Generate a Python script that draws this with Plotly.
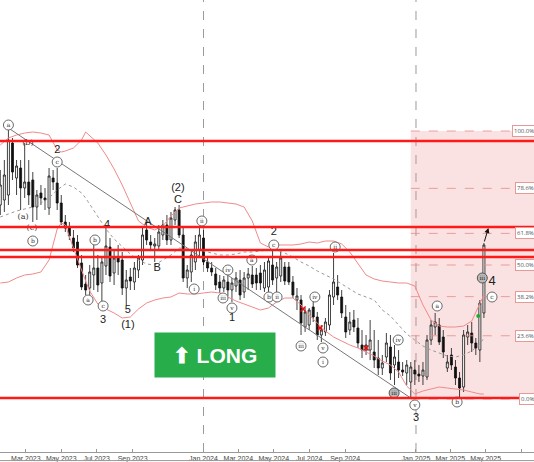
import plotly.graph_objects as go
import pandas as pd

# ---------------- DATA ----------------
start = pd.Timestamp("2023-01-16")  # first weekly candle (Monday)

open_ = [295, 300, 305, 357, 322, 332, 312, 318, 320, 293, 307, 302, 292, 322, 317, 297, 278, 272, 262, 258,
         237, 216, 212, 225, 232, 217, 234, 253, 227, 242, 240, 212, 223, 218, 230, 240, 270, 258, 254, 254,
         265, 275, 260, 280, 290, 265, 222, 228, 238, 250, 262, 238, 232, 226, 218, 212, 218, 210, 214, 220,
         208, 222, 225, 225, 227, 212, 213, 235, 222, 224, 233, 233, 218, 200, 200, 173, 175, 193, 183, 165,
         168, 175, 203, 213, 203, 183, 170, 180, 172, 155, 150, 150, 148, 142, 132, 143, 153, 135, 138, 130,
         127, 118, 130, 126, 124, 123, 160, 173, 175, 163, 132, 145, 133, 122, 113, 163, 167, 157, 150, 187]
high = [330, 340, 372, 362, 340, 340, 357, 340, 328, 310, 315, 312, 332, 330, 332, 305, 285, 278, 270, 265,
        245, 225, 235, 255, 245, 242, 272, 262, 250, 255, 248, 230, 232, 238, 245, 272, 278, 265, 262, 275,
        280, 285, 288, 293, 295, 272, 235, 250, 265, 273, 270, 242, 238, 232, 225, 224, 225, 222, 228, 230,
        228, 232, 234, 232, 235, 238, 242, 252, 238, 248, 238, 238, 224, 212, 205, 192, 192, 200, 188, 175,
        182, 210, 247, 225, 210, 195, 188, 190, 182, 170, 165, 180, 170, 160, 145, 167, 165, 155, 150, 138,
        140, 138, 140, 135, 138, 165, 180, 187, 182, 170, 145, 152, 140, 128, 170, 175, 178, 162, 200, 257]
low = [285, 288, 295, 320, 305, 290, 302, 295, 278, 280, 295, 290, 285, 310, 290, 275, 268, 260, 248, 232,
       210, 205, 205, 210, 208, 198, 225, 218, 215, 225, 205, 195, 210, 210, 222, 235, 255, 250, 238, 250,
       260, 255, 255, 275, 262, 218, 212, 218, 230, 242, 235, 228, 224, 210, 207, 208, 204, 198, 208, 200,
       202, 210, 212, 210, 210, 208, 207, 215, 208, 218, 215, 215, 202, 190, 165, 168, 170, 178, 160, 158,
       164, 170, 195, 200, 182, 162, 165, 168, 152, 142, 145, 140, 132, 125, 125, 138, 120, 115, 122, 124,
       115, 102, 115, 118, 115, 120, 155, 165, 155, 142, 128, 130, 115, 103, 108, 155, 148, 145, 138, 182]
close = [315, 325, 360, 328, 334, 312, 318, 305, 293, 305, 302, 300, 324, 318, 297, 278, 272, 264, 252, 235,
         213, 210, 228, 232, 215, 238, 254, 224, 242, 238, 212, 220, 219, 232, 242, 265, 260, 255, 256, 268,
         275, 260, 282, 290, 265, 222, 230, 245, 258, 265, 238, 232, 228, 215, 212, 220, 210, 217, 222, 205,
         222, 226, 216, 217, 217, 230, 239, 220, 233, 242, 219, 218, 205, 204, 177, 188, 190, 183, 165, 170,
         178, 205, 218, 205, 187, 168, 178, 173, 157, 150, 155, 160, 140, 132, 137, 157, 127, 143, 130, 128,
         135, 133, 126, 124, 130, 160, 175, 178, 158, 148, 138, 135, 122, 112, 165, 168, 157, 152, 197, 255]

# Bollinger bands (week index -> value)
bb_idx = [0, 2, 4, 6, 8, 10, 12, 14, 15, 16, 18, 20, 21, 22, 24, 26, 28, 30, 32, 34, 36, 38, 40, 42, 44, 46, 48,
          50, 52, 54, 56, 58, 60, 62, 64, 66, 68, 70, 72, 74, 76, 78, 80, 82, 84, 86, 88, 90, 92, 94, 96, 98,
          100, 102, 104, 106, 108, 110, 112, 114, 116, 118, 119]
bb_upper = [355, 362, 365, 367, 368, 367, 365, 350, 348, 349, 352, 360, 368, 364, 357, 345, 331, 315, 297, 279,
            273, 270, 274, 284, 292, 294, 296, 297, 298, 298, 297, 296, 293, 279, 257, 253, 255, 255, 255, 256,
            258, 257, 259, 259, 256, 248, 236, 225, 221, 219, 218, 217, 217, 214, 195, 180, 174, 173, 173, 174,
            179, 197, 205]
bb_middle = [283, 286, 289, 291, 293, 297, 302, 310, 313, 316, 313, 307, 302, 296, 284, 271, 261, 253, 246, 240,
             236, 235, 240, 245, 252, 251, 250, 249, 247, 245, 245, 246, 248, 248, 249, 250, 250, 247, 243, 238,
             234, 229, 225, 221, 216, 211, 206, 203, 200, 190, 184, 175, 166, 160, 154, 150, 147, 144, 143, 145,
             149, 156, 162]
bb_lower = [217, 218, 222, 225, 226, 228, 240, 271, 277, 275, 252, 229, 219, 209, 196, 191, 187, 182, 183, 191,
            197, 200, 202, 203, 207, 206, 206, 207, 208, 207, 203, 199, 196, 193, 190, 192, 198, 202, 202, 195,
            185, 177, 169, 163, 159, 155, 152, 148, 144, 139, 135, 128, 114, 106, 109, 111, 113, 112, 111, 110,
            108, 106, 106]

# horizontal support / resistance lines
sr_levels = [359, 273, 250, 243, 102]

# Fibonacci retracement
fib_low, fib_high = 101, 369
fib_ratios = [1.0, 0.786, 0.618, 0.5, 0.382, 0.236, 0.0]
fib_texts = ["100.0%", "78.6%", "61.8%", "50.0%", "38.2%", "23.6%", "0.0%"]

# x-axis ticks
tick_dates = ["2023-01-01", "2023-03-01", "2023-05-01", "2023-07-01", "2023-09-01",
              "2024-01-01", "2024-03-01", "2024-05-01", "2024-07-01", "2024-09-01",
              "2025-01-01", "2025-03-01", "2025-05-01", "2025-07-01"]
tick_labels = ["Jan 2023", "Mar 2023", "May 2023", "Jul 2023", "Sep 2023",
               "Jan 2024", "Mar 2024", "May 2024", "Jul 2024", "Sep 2024",
               "Jan 2025", "Mar 2025", "May 2025", "Jul 2025"]

# Elliott wave labels (text, week index, price)
circled_labels = [("a", 2, 375), ("c", 14, 338), ("b", 8, 259), ("a", 21.6, 200), ("b", 23.3, 260),
                  ("c", 25.3, 194), ("i", 47.7, 211), ("ii", 49.6, 279), ("iii", 54.8, 202), ("iv", 56.0, 230),
                  ("v", 57.0, 192), ("a", 61.9, 240), ("b", 66.1, 203), ("c", 67.3, 255), ("ii", 68.1, 203),
                  ("iii", 74.0, 154), ("iv", 77.4, 203), ("v", 79.4, 152), ("i", 79.4, 138), ("ii", 82.4, 253),
                  ("iv", 97.9, 160), ("v", 102.0, 95), ("a", 107.5, 194), ("b", 112.4, 98), ("c", 121.0, 203)]
filled_labels = [("iii", 96.9, 107), ("iii", 118.6, 222)]
plain_labels = [("2", 14, 350), ("3", 25.3, 180), ("4", 26.3, 275), ("5", 31.4, 190), ("(1)", 31.4, 175),
                ("A", 36.3, 278), ("B", 38.6, 232), ("(2)", 43.7, 312), ("C", 43.7, 300), ("1", 57.0, 182),
                ("2", 67.3, 268), ("3", 102.3, 82)]
big_labels = [("4", 121.0, 218)]
small_labels = [("(b)", 6.8, 357), ("(a)", 5.6, 283), ("(c)", 7.8, 272)]
red_marks = [(74.5, 191), (78.7, 172), (90.0, 152)]
green_marks = [(117.6, 184)]

x_start, x_end = "2023-01-15 12:00", "2025-07-23 06:00"


def wk(i):
    return start + pd.Timedelta(days=7 * i)


dates = [wk(i) for i in range(len(close))]

fig = go.Figure()

# Bollinger bands
bb_x = [wk(i) for i in bb_idx]
fig.add_trace(go.Scatter(x=bb_x, y=bb_upper, mode="lines", line=dict(color="#f08a8a", width=1), hoverinfo="skip"))
fig.add_trace(go.Scatter(x=bb_x, y=bb_lower, mode="lines", line=dict(color="#f08a8a", width=1), hoverinfo="skip"))
fig.add_trace(go.Scatter(x=bb_x, y=bb_middle, mode="lines", line=dict(color="#999999", width=1, dash="dot"),
                         hoverinfo="skip"))

# trend line from the first top to wave-3 low
i_low = low.index(min(low[:110]))
fig.add_trace(go.Scatter(x=[dates[2], dates[i_low]], y=[high[2], low[i_low]], mode="lines",
                         line=dict(color="#777777", width=1), hoverinfo="skip"))

# Fibonacci dashed lines
for r in fib_ratios:
    lvl = fib_low + r * (fib_high - fib_low)
    fig.add_trace(go.Scatter(x=[dates[i_low], x_end], y=[lvl, lvl], mode="lines",
                             line=dict(color="#e98a8a", width=0.8, dash="dash"), hoverinfo="skip"))

# candles
fig.add_trace(go.Candlestick(
    x=dates, open=open_, high=high, low=low, close=close,
    increasing=dict(line=dict(color="#111111", width=0.8), fillcolor="white"),
    decreasing=dict(line=dict(color="#111111", width=0.8), fillcolor="#111111"),
    whiskerwidth=0, showlegend=False))

# markers
fig.add_trace(go.Scatter(x=[wk(i) for i, _ in red_marks], y=[v for _, v in red_marks], mode="markers",
                         marker=dict(symbol="x-thin", size=5, line=dict(color="#e01010", width=1.5))))
fig.add_trace(go.Scatter(x=[wk(i) for i, _ in green_marks], y=[v for _, v in green_marks], mode="markers",
                         marker=dict(symbol="circle", size=4, color="#22aa33")))

# circled labels
fig.add_trace(go.Scatter(
    x=[wk(i) for _, i, _ in circled_labels], y=[v for _, _, v in circled_labels],
    text=[t for t, _, _ in circled_labels], mode="markers+text", textposition="middle center",
    marker=dict(symbol="circle", size=10, color="white", line=dict(color="#6a6a6a", width=1)),
    textfont=dict(size=6, color="#333333", family="DejaVu Serif")))
fig.add_trace(go.Scatter(
    x=[wk(i) for _, i, _ in filled_labels], y=[v for _, _, v in filled_labels],
    text=[t for t, _, _ in filled_labels], mode="markers+text", textposition="middle center",
    marker=dict(symbol="circle", size=10, color="#bbbbbb", line=dict(color="#555555", width=1)),
    textfont=dict(size=6, color="#222222", family="DejaVu Serif")))

fig.add_trace(go.Scatter(
    x=[wk(i) for _, i, _ in plain_labels], y=[v for _, _, v in plain_labels],
    text=[t for t, _, _ in plain_labels], mode="text", textposition="middle center",
    textfont=dict(size=11, color="#222222", family="Liberation Sans Narrow, Liberation Sans")))
fig.add_trace(go.Scatter(
    x=[wk(i) for _, i, _ in big_labels], y=[v for _, _, v in big_labels],
    text=[t for t, _, _ in big_labels], mode="text", textposition="middle center",
    textfont=dict(size=13, color="#222222", family="Liberation Sans Narrow, Liberation Sans")))
fig.add_trace(go.Scatter(
    x=[wk(i) for _, i, _ in small_labels], y=[v for _, _, v in small_labels],
    text=[t for t, _, _ in small_labels], mode="text", textposition="middle center",
    textfont=dict(size=8, color="#333333", family="DejaVu Serif")))

shapes = []
# fib shaded zone
shapes.append(dict(type="rect", xref="x", yref="y", x0=dates[i_low], x1=x_end, y0=fib_low, y1=fib_high,
                   fillcolor="rgba(236,140,140,0.25)", line=dict(width=0), layer="below"))
# year separators
for yr in ["2024-01-01", "2025-01-01"]:
    shapes.append(dict(type="line", xref="x", yref="paper", x0=yr, x1=yr, y0=0, y1=1,
                       line=dict(color="#9a9a9a", width=1, dash="dash"), layer="below"))
# S/R lines
for lv in sr_levels:
    shapes.append(dict(type="line", xref="paper", yref="y", x0=0, x1=1, y0=lv, y1=lv,
                       line=dict(color="#ff1a1a", width=2.5)))
# bottom frame line under labels
shapes.append(dict(type="line", xref="paper", yref="paper", x0=0, x1=1, y0=-0.019, y1=-0.019,
                   line=dict(color="#999999", width=1)))

annotations = []
for r, t in zip(fib_ratios, fib_texts):
    lvl = fib_low + r * (fib_high - fib_low)
    annotations.append(dict(xref="paper", yref="y", x=1.004, y=lvl, xanchor="right", yanchor="middle",
                            text=t, showarrow=False, font=dict(size=6, color="#555555"),
                            bgcolor="white", bordercolor="#e59a9a", borderwidth=1, borderpad=1))
# arrow from last candle
annotations.append(dict(x=wk(120.1), y=high[-1] + 15, ax=dates[-1], ay=high[-1], axref="x", ayref="y",
                        xref="x", yref="y", text="", showarrow=True, arrowhead=2, arrowsize=1,
                        arrowwidth=1, arrowcolor="#111111", standoff=0, startstandoff=0))
# LONG badge
annotations.append(dict(xref="paper", yref="paper", x=0.4026, y=0.2146, xanchor="center", yanchor="middle",
                        text="<b>⬆ LONG</b>", showarrow=False, bgcolor="#27ae4a", width=118, height=42,
                        borderpad=1, font=dict(size=21, color="white", family="Liberation Sans")))

fig.update_layout(
    width=534, height=462, margin=dict(l=0, r=0, t=0, b=10),
    plot_bgcolor="white", paper_bgcolor="white", showlegend=False,
    shapes=shapes, annotations=annotations,
    xaxis=dict(type="date", range=[x_start, x_end], rangeslider=dict(visible=False),
               tickvals=tick_dates, ticktext=tick_labels, ticks="inside", ticklen=3,
               tickcolor="#999999", showgrid=False, showline=True, linecolor="#999999",
               tickfont=dict(size=7, color="#444444", family="Liberation Sans Narrow, Liberation Sans"),
               ticklabelstandoff=0, zeroline=False, automargin=False),
    yaxis=dict(range=[48, 500], showticklabels=False, showgrid=False, zeroline=False, showline=False,
               automargin=False),
)

fig.write_html("out.html", config={"displayModeBar": False},
               post_script="document.body.style.margin='0';document.body.style.overflow='hidden';")
